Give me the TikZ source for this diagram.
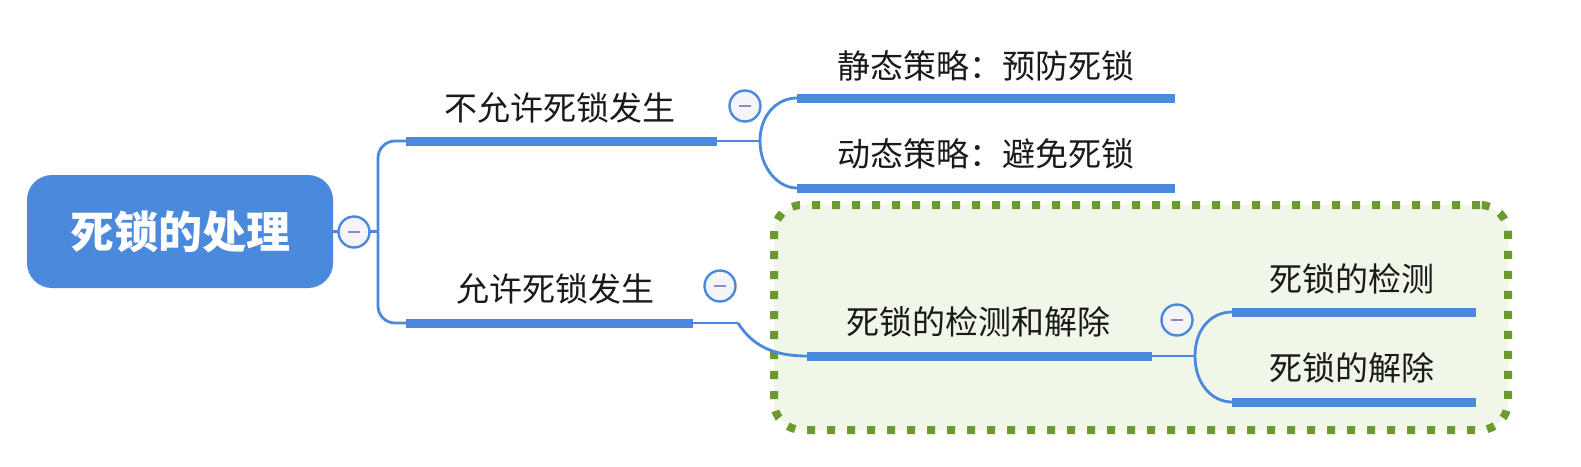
\documentclass[tikz,border=0pt]{standalone}
\usepackage{fontspec}
\newfontfamily\cjk{Noto Sans CJK SC}
\definecolor{mblue}{HTML}{4A89DC}
\definecolor{txt}{HTML}{1A1A1A}
\definecolor{circfill}{HTML}{F5F5F9}
\definecolor{minusc}{HTML}{8C8CC2}
\definecolor{dgreen}{HTML}{6C9A2E}
\definecolor{lgreen}{HTML}{F0F7E8}
\tikzset{
  topic/.style={font=\cjk\fontsize{33}{40}\selectfont, text=txt, inner sep=0pt},
  rootbox/.style={fill=mblue, rounded corners=25pt, minimum width=306pt, minimum height=113pt,
    text=white, font=\cjk\bfseries\fontsize{44}{52}\selectfont, inner sep=0pt},
  bar/.style={draw=mblue, line width=9pt},
  conn/.style={draw=mblue, line width=2.8pt},
  fold/.style={circle, draw=mblue, line width=2.4pt, fill=circfill, minimum size=31pt, inner sep=0pt,
    path picture={\draw[minusc, line width=2.2pt]
      ([xshift=-6pt]path picture bounding box.center) -- ([xshift=6pt]path picture bounding box.center);}},
  grpbox/.style={draw=dgreen, fill=lgreen, line width=8pt, dash pattern=on 8pt off 12pt,
    rounded corners=28pt, minimum width=734pt, minimum height=225pt, inner sep=0pt}
}
\begin{document}
\begin{tikzpicture}[x=1pt,y=-1pt]
\useasboundingbox (0,0) rectangle (1581,466);
% group box
\node[grpbox] (grp) at (1141,317.5) {};
% root
\node[rootbox] (root) at (180,231.5) {\raisebox{-4pt}{死锁的处理}};
% topics
\node[topic] (t1) at (560,107.5) {不允许死锁发生};
\node[topic] (t11) at (986,66) {静态策略：预防死锁};
\node[topic] (t12) at (986,154) {动态策略：避免死锁};
\node[topic] (t2) at (555,289) {允许死锁发生};
\node[topic] (t21) at (978,322) {死锁的检测和解除};
\node[topic] (t211) at (1352,279) {死锁的检测};
\node[topic] (t212) at (1352,368) {死锁的解除};
% bar end points
\coordinate (b1l) at (406,141);   \coordinate (b1r) at (717,141);
\coordinate (b11l) at (797,98);   \coordinate (b11r) at (1175,98);
\coordinate (b12l) at (797,188);  \coordinate (b12r) at (1175,188);
\coordinate (b2l) at (406,323);   \coordinate (b2r) at (693,323);
\coordinate (b21l) at (807,356);  \coordinate (b21r) at (1152,356);
\coordinate (b211l) at (1232,312); \coordinate (b211r) at (1476,312);
\coordinate (b212l) at (1232,402); \coordinate (b212r) at (1476,402);
% junction points
\coordinate (jr) at (378,231.5);
\coordinate (f1) at (760,141);
\coordinate (f2) at (738,323);
\coordinate (f21) at (1195,356);
% connectors
\draw[conn] (root.east) -- (jr);
\draw[conn, rounded corners=17pt] (jr) |- (b1l);
\draw[conn, rounded corners=17pt] (jr) |- (b2l);
\draw[conn] (b1r) -- (f1);
\draw[conn] (f1) .. controls (760,114) and (778,98) .. (b11l);
\draw[conn] (f1) .. controls (760,168) and (778,188) .. (b12l);
\draw[conn] (b2r) -- (f2);
\draw[conn] (f2) .. controls (752,345) and (772,356) .. (b21l);
\draw[conn] (b21r) -- (f21);
\draw[conn] (f21) .. controls (1195,328) and (1212,312) .. (b211l);
\draw[conn] (f21) .. controls (1195,384) and (1212,402) .. (b212l);
% bars
\draw[bar] (b1l) -- (b1r);
\draw[bar] (b11l) -- (b11r);
\draw[bar] (b12l) -- (b12r);
\draw[bar] (b2l) -- (b2r);
\draw[bar] (b21l) -- (b21r);
\draw[bar] (b211l) -- (b211r);
\draw[bar] (b212l) -- (b212r);
% fold circles
\node[fold] (c0) at (354,232) {};
\node[fold] (c1) at (745,106) {};
\node[fold] (c2) at (720,286) {};
\node[fold] (c21) at (1177,320) {};
\end{tikzpicture}
\end{document}
